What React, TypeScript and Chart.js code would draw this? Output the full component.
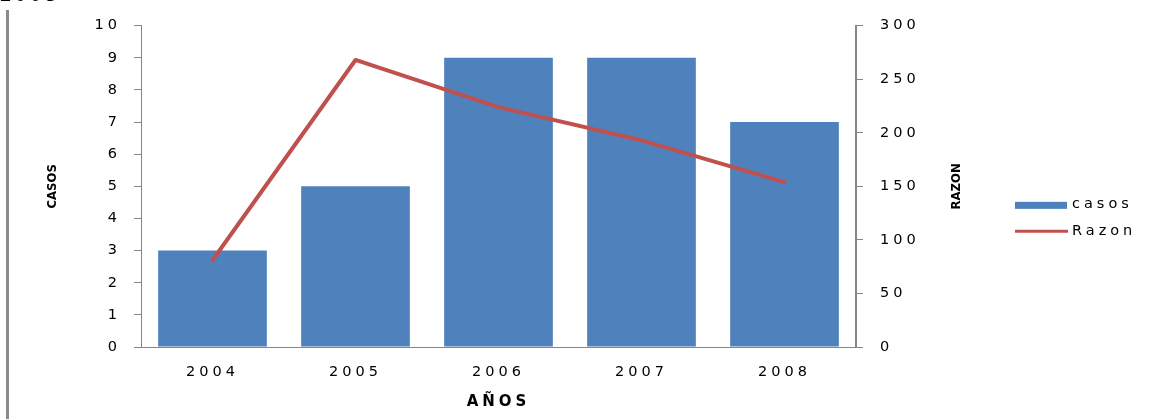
import React, { useEffect, useRef } from 'react';
import { Chart, registerables } from 'chart.js';

Chart.register(...registerables);

// ---- data ----
const years = ['2004', '2005', '2006', '2007', '2008'];
const casos = [3, 5, 9, 9, 7];
const razon = [81, 268, 224, 193, 154];
const casosLabel = 'casos';
const razonLabel = 'Razon';
const xTitle = 'AÑOS';
const yTitle = 'CASOS';
const y1Title = 'RAZON';
const yMax = 10;
const y1Max = 300;
const y1Step = 50;
const headerText = '2008';

const BAR_COLOR = '#4F81BD';
const LINE_COLOR = '#C0504D';
const AXIS_COLOR = '#868686';
const SPACING = '4px';
const FONT = "'DejaVu Sans', Verdana, sans-serif";
const NARROW = "'Liberation Sans Narrow', 'DejaVu Sans Condensed', 'Liberation Sans', sans-serif";

export default function App() {
  const ref = useRef<HTMLCanvasElement>(null);

  useEffect(() => {
    const canvas = ref.current;
    if (!canvas) return;

    const extras = {
      id: 'extras',
      beforeUpdate(chart: any) {
        chart.ctx.letterSpacing = SPACING;
      },
      beforeDraw(chart: any) {
        chart.ctx.letterSpacing = SPACING;
      },
      afterDraw(chart: any) {
        const ctx = chart.ctx;
        const area = chart.chartArea;
        const midY = (area.top + area.bottom) / 2;
        ctx.save();
        // rotated axis titles
        ctx.letterSpacing = '0px';
        ctx.fillStyle = '#000';
        ctx.font = `bold 13px ${NARROW}`;
        ctx.textAlign = 'center';
        ctx.textBaseline = 'middle';
        const rot = (t: string, x: number, y: number) => {
          ctx.save();
          ctx.translate(x, y);
          ctx.rotate(-Math.PI / 2);
          ctx.fillText(t, 0, 0);
          ctx.restore();
        };
        rot(yTitle, area.left - 88, midY);
        rot(y1Title, area.right + 101, midY);

        // legend
        ctx.letterSpacing = SPACING;
        ctx.font = `14.5px ${FONT}`;
        ctx.textAlign = 'left';
        const lx = area.right + 159;
        const ly1 = midY + 19;
        const ly2 = midY + 45;
        ctx.fillStyle = BAR_COLOR;
        ctx.fillRect(lx, ly1 - 3.5, 52, 7);
        ctx.strokeStyle = LINE_COLOR;
        ctx.lineWidth = 3;
        ctx.beginPath();
        ctx.moveTo(lx, ly2);
        ctx.lineTo(lx + 53, ly2);
        ctx.stroke();
        ctx.fillStyle = '#000';
        ctx.fillText(casosLabel, lx + 57, ly1 - 1);
        ctx.fillText(razonLabel, lx + 57, ly2);
        ctx.restore();
      },
    };

    const chart = new Chart(canvas, {
      type: 'bar',
      data: {
        labels: years,
        datasets: [
          {
            type: 'line',
            label: razonLabel,
            data: razon,
            yAxisID: 'y1',
            borderColor: LINE_COLOR,
            backgroundColor: LINE_COLOR,
            borderWidth: 4,
            pointRadius: 0,
            tension: 0,
            borderJoinStyle: 'round',
            borderCapStyle: 'round',
            order: 0,
          } as any,
          {
            type: 'bar',
            label: casosLabel,
            data: casos,
            yAxisID: 'y',
            backgroundColor: BAR_COLOR,
            borderWidth: 0,
            categoryPercentage: 1,
            barPercentage: 0.76,
            order: 1,
          },
        ],
      },
      options: {
        responsive: false,
        animation: false,
        devicePixelRatio: 1,
        layout: { padding: { top: 25, left: 0, right: 0, bottom: 0 } },
        plugins: {
          legend: { display: false },
          tooltip: { enabled: false },
        },
        scales: {
          x: {
            grid: { display: false, drawTicks: false },
            border: { display: true, color: AXIS_COLOR, width: 1 },
            ticks: {
              color: '#000',
              font: { family: FONT, size: 14.5 },
              padding: 17,
              maxRotation: 0,
              autoSkip: false,
            },
            title: {
              display: true,
              text: xTitle,
              color: '#000',
              font: { family: FONT, size: 15, weight: 'bold' },
              padding: { top: 0, bottom: 8 },
            },
            afterFit(scale: any) {
              scale.height = 72;
            },
          },
          y: {
            position: 'left',
            min: 0,
            max: yMax,
            grid: {
              display: true,
              drawOnChartArea: false,
              drawTicks: true,
              tickLength: 7,
              color: AXIS_COLOR,
            },
            border: { display: true, color: AXIS_COLOR, width: 1 },
            ticks: {
              stepSize: 1,
              color: '#000',
              font: { family: FONT, size: 14.5 },
              padding: 13,
            },
            afterFit(scale: any) {
              scale.width = 141;
            },
          },
          y1: {
            position: 'right',
            min: 0,
            max: y1Max,
            grid: {
              display: true,
              drawOnChartArea: false,
              drawTicks: true,
              tickLength: 7,
              color: AXIS_COLOR,
            },
            border: { display: true, color: AXIS_COLOR, width: 2 },
            ticks: {
              stepSize: y1Step,
              color: '#000',
              font: { family: FONT, size: 14.5 },
              padding: 17,
            },
            afterFit(scale: any) {
              scale.width = 295;
            },
          },
        },
      },
      plugins: [extras],
    });

    return () => chart.destroy();
  }, []);

  return (
    <div
      style={{
        position: 'absolute',
        left: 0,
        top: 0,
        width: 1151,
        height: 419,
        overflow: 'hidden',
        background: '#fff',
      }}
    >
      <canvas ref={ref} width={1151} height={419} style={{ display: 'block', width: 1151, height: 419 }} />
      <div
        style={{
          position: 'absolute',
          left: 6,
          top: 10,
          width: 3,
          height: 409,
          background: '#8a8a8a',
        }}
      />
      <div
        style={{
          position: 'absolute',
          left: 0,
          top: -17,
          font: "bold 22px 'Liberation Serif', serif",
          lineHeight: '22px',
          letterSpacing: '4px',
          color: '#000',
          whiteSpace: 'nowrap',
        }}
      >
        {headerText}
      </div>
    </div>
  );
}
